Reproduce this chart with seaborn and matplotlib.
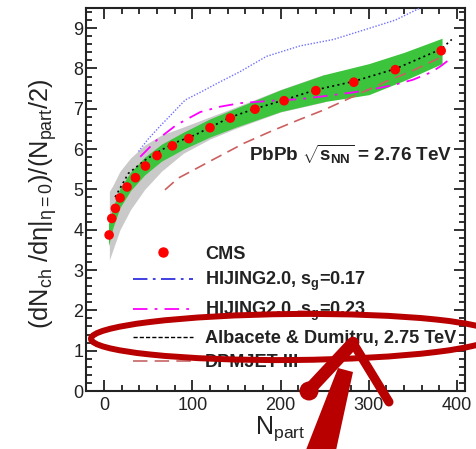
import numpy as np
import pandas as pd
import matplotlib
matplotlib.use("Agg")
import matplotlib.pyplot as plt
import seaborn as sns
from matplotlib.lines import Line2D
from matplotlib.patches import Ellipse, Arc, Polygon, Circle
from matplotlib.ticker import MultipleLocator

# CMS data points
cms_npart = [5.7, 8.7, 12.8, 18.1, 26, 35.5, 46.8, 60, 77.4, 96, 120, 143, 171, 204, 240, 283, 330, 382]
cms_val = [3.87, 4.28, 4.53, 4.79, 5.06, 5.29, 5.58, 5.84, 6.08, 6.26, 6.53, 6.77, 6.99, 7.20, 7.45, 7.66, 7.97, 8.44]

# green band
green_n = [5, 10, 18, 30, 46, 65, 90, 120, 150, 200, 250, 300, 340, 383]
green_lo = [3.6, 4.05, 4.55, 4.97, 5.36, 5.7, 6.0, 6.3, 6.55, 6.93, 7.18, 7.35, 7.7, 8.12]
green_hi = [4.15, 4.55, 5.03, 5.43, 5.8, 6.12, 6.42, 6.75, 7.02, 7.47, 7.85, 8.12, 8.4, 8.75]

# grey band
grey_n = [6, 10, 18, 30, 46, 65, 90, 120, 150, 200, 250]
grey_lo = [3.25, 3.5, 4.0, 4.5, 5.0, 5.45, 5.9, 6.25, 6.52, 6.92, 7.17]
grey_hi = [4.95, 5.1, 5.45, 5.78, 6.1, 6.35, 6.55, 6.8, 7.05, 7.48, 7.86]

# HIJING2.0, sg=0.17
hij17_n = [39, 50, 63, 78, 92, 110, 128, 154, 184, 222, 260, 301, 330, 358]
hij17_val = [5.94, 6.25, 6.56, 6.9, 7.22, 7.42, 7.63, 7.92, 8.3, 8.56, 8.72, 9.0, 9.2, 9.5]

# HIJING2.0, sg=0.23
hij23_n = [41, 60, 82, 109, 131, 154, 190, 222, 252, 280, 301, 328, 350, 370, 381, 390]
hij23_val = [5.81, 6.23, 6.6, 6.92, 7.05, 7.14, 7.2, 7.24, 7.32, 7.4, 7.47, 7.59, 7.72, 7.9, 8.05, 8.2]

# Albacete & Dumitru
ad_n = [12.5, 27.6, 46.5, 65, 84, 103, 122, 143, 171, 204, 240, 283, 330, 382, 394]
ad_val = [4.81, 5.40, 5.73, 5.98, 6.19, 6.35, 6.56, 6.79, 7.0, 7.22, 7.47, 7.68, 7.99, 8.48, 8.72]

# DPMJET-III
dpm_n = [69, 84, 103, 120, 140, 158, 190, 220, 250, 282, 320, 350, 383]
dpm_val = [4.99, 5.28, 5.5, 5.7, 5.93, 6.14, 6.45, 6.72, 6.98, 7.3, 7.68, 7.95, 8.29]

sns.set_theme(style="ticks")
plt.rcParams["font.family"] = ["Liberation Sans", "DejaVu Sans"]
plt.rcParams["mathtext.fontset"] = "custom"
plt.rcParams["mathtext.rm"] = "Liberation Sans"
plt.rcParams["mathtext.it"] = "Liberation Sans"
plt.rcParams["mathtext.bf"] = "Liberation Sans:bold"

fig = plt.figure(figsize=(4.76, 4.49), dpi=100)
ax = fig.add_axes([86 / 476, 1 - 391 / 449, 379 / 476, 383 / 449])

ax.fill_between(grey_n, grey_lo, grey_hi, color="#c9c9c9", lw=0, zorder=1)
ax.fill_between(green_n, green_lo, green_hi, color="#3cc43c", lw=0, zorder=2)

sns.lineplot(x=hij17_n, y=hij17_val, ax=ax, color="#7070ff", lw=1.0,
             linestyle=(0, (1, 1.2)), estimator=None, sort=False, zorder=3)
sns.lineplot(x=hij23_n, y=hij23_val, ax=ax, color="#ff00ff", lw=1.3,
             linestyle=(0, (8, 4, 1.5, 4)), estimator=None, sort=False, zorder=3)
sns.lineplot(x=dpm_n, y=dpm_val, ax=ax, color="#cc6060", lw=1.2,
             linestyle=(0, (7, 4)), estimator=None, sort=False, zorder=3)
sns.lineplot(x=ad_n, y=ad_val, ax=ax, color="black", lw=1.2,
             linestyle=(0, (1.2, 2)), estimator=None, sort=False, zorder=4)
sns.scatterplot(x=cms_npart, y=cms_val, ax=ax, color="#ff0000", s=48,
                edgecolor="none", zorder=5)

ax.set_xlim(-20.5, 409)
ax.set_ylim(0, 9.5)
ax.xaxis.set_major_locator(MultipleLocator(100))
ax.xaxis.set_minor_locator(MultipleLocator(20))
ax.yaxis.set_major_locator(MultipleLocator(1))
ax.yaxis.set_minor_locator(MultipleLocator(0.2))
ax.tick_params(which="both", direction="in", top=True, right=True, width=1.3, color="#222222")
ax.tick_params(which="major", length=8, labelsize=13, labelcolor="#222222")
ax.tick_params(which="minor", length=4.5)
ax.tick_params(axis="y", pad=2)
ax.tick_params(axis="x", pad=4)
for sp in ax.spines.values():
    sp.set_linewidth(1.5)
    sp.set_color("#222222")

ax.set_xlabel(r"N$_{\mathrm{part}}$", fontsize=18, color="#222222")
ax.xaxis.set_label_coords(0.512, -0.06)
ax.set_ylabel(r"(dN$_{\mathrm{ch}}$ /d$\eta$|$_{\eta=0}$)/(N$_{\mathrm{part}}$/2)", fontsize=18.3, color="#222222")
ax.yaxis.set_label_coords(-0.072, 0.49)

ax.text(0.43, 0.617, r"PbPb $\sqrt{\mathbf{s_{NN}}}$ = 2.76 TeV", transform=ax.transAxes,
        fontsize=13.6, fontweight="bold", color="#222222", va="center", ha="left")

handles = [
    Line2D([], [], marker="o", ls="none", color="#ff0000", markersize=6.5),
    Line2D([], [], color="#3030e0", lw=1.3, ls=(0, (8, 3, 1.5, 3))),
    Line2D([], [], color="#ff00ff", lw=1.3, ls=(0, (8, 4, 1.5, 4))),
    Line2D([], [], color="black", lw=1.0, ls=(0, (3, 1.5))),
    Line2D([], [], color="#cc7070", lw=1.3, ls=(0, (8, 4))),
]
labels = ["CMS", r"HIJING2.0, $\mathbf{s_g}$=0.17", r"HIJING2.0, $\mathbf{s_g}$=0.23",
          "Albacete & Dumitru, 2.75 TeV", "DPMJET-III"]
leg = ax.legend(handles, labels, loc="upper left", bbox_to_anchor=(0.124, 0.379),
                frameon=False, borderaxespad=0, borderpad=0, handlelength=3.3,
                handletextpad=0.66, labelspacing=0.38,
                prop={"family": "Liberation Sans", "weight": "bold", "size": 13.1})
for t in leg.get_texts():
    t.set_color("#222222")

# hand-drawn red highlight overlay (inches from the lower-left corner)
red = "#b80000"
tr = fig.dpi_scale_trans
H = 4.49
fig.patches.append(Ellipse((2.93, H - 3.37), 4.04, 0.46, angle=0.5,
                           fill=False, ec=red, lw=4.3, transform=tr, zorder=10))
fig.patches.append(Arc((2.98, H - 3.33), 3.95, 0.40, angle=-1.0, theta1=25, theta2=92,
                       ec=red, lw=3.5, transform=tr, zorder=10))
fig.patches.append(Polygon([(3.04, H - 4.55), (3.35, H - 4.55), (3.53, H - 3.72), (3.38, H - 3.68)],
                           closed=True, fc=red, ec="none", transform=tr, zorder=10))
fig.lines.append(Line2D([3.53, 3.09], [H - 3.43, H - 3.90],
                        color=red, lw=9, solid_capstyle="round", transform=tr, zorder=10))
fig.patches.append(Circle((3.09, H - 3.91), 0.095, fc=red, ec="none", transform=tr, zorder=10))
fig.lines.append(Line2D([3.53, 3.89], [H - 3.43, H - 4.02],
                        color=red, lw=6.5, solid_capstyle="round", transform=tr, zorder=10))

fig.savefig("out.png", dpi=100)
